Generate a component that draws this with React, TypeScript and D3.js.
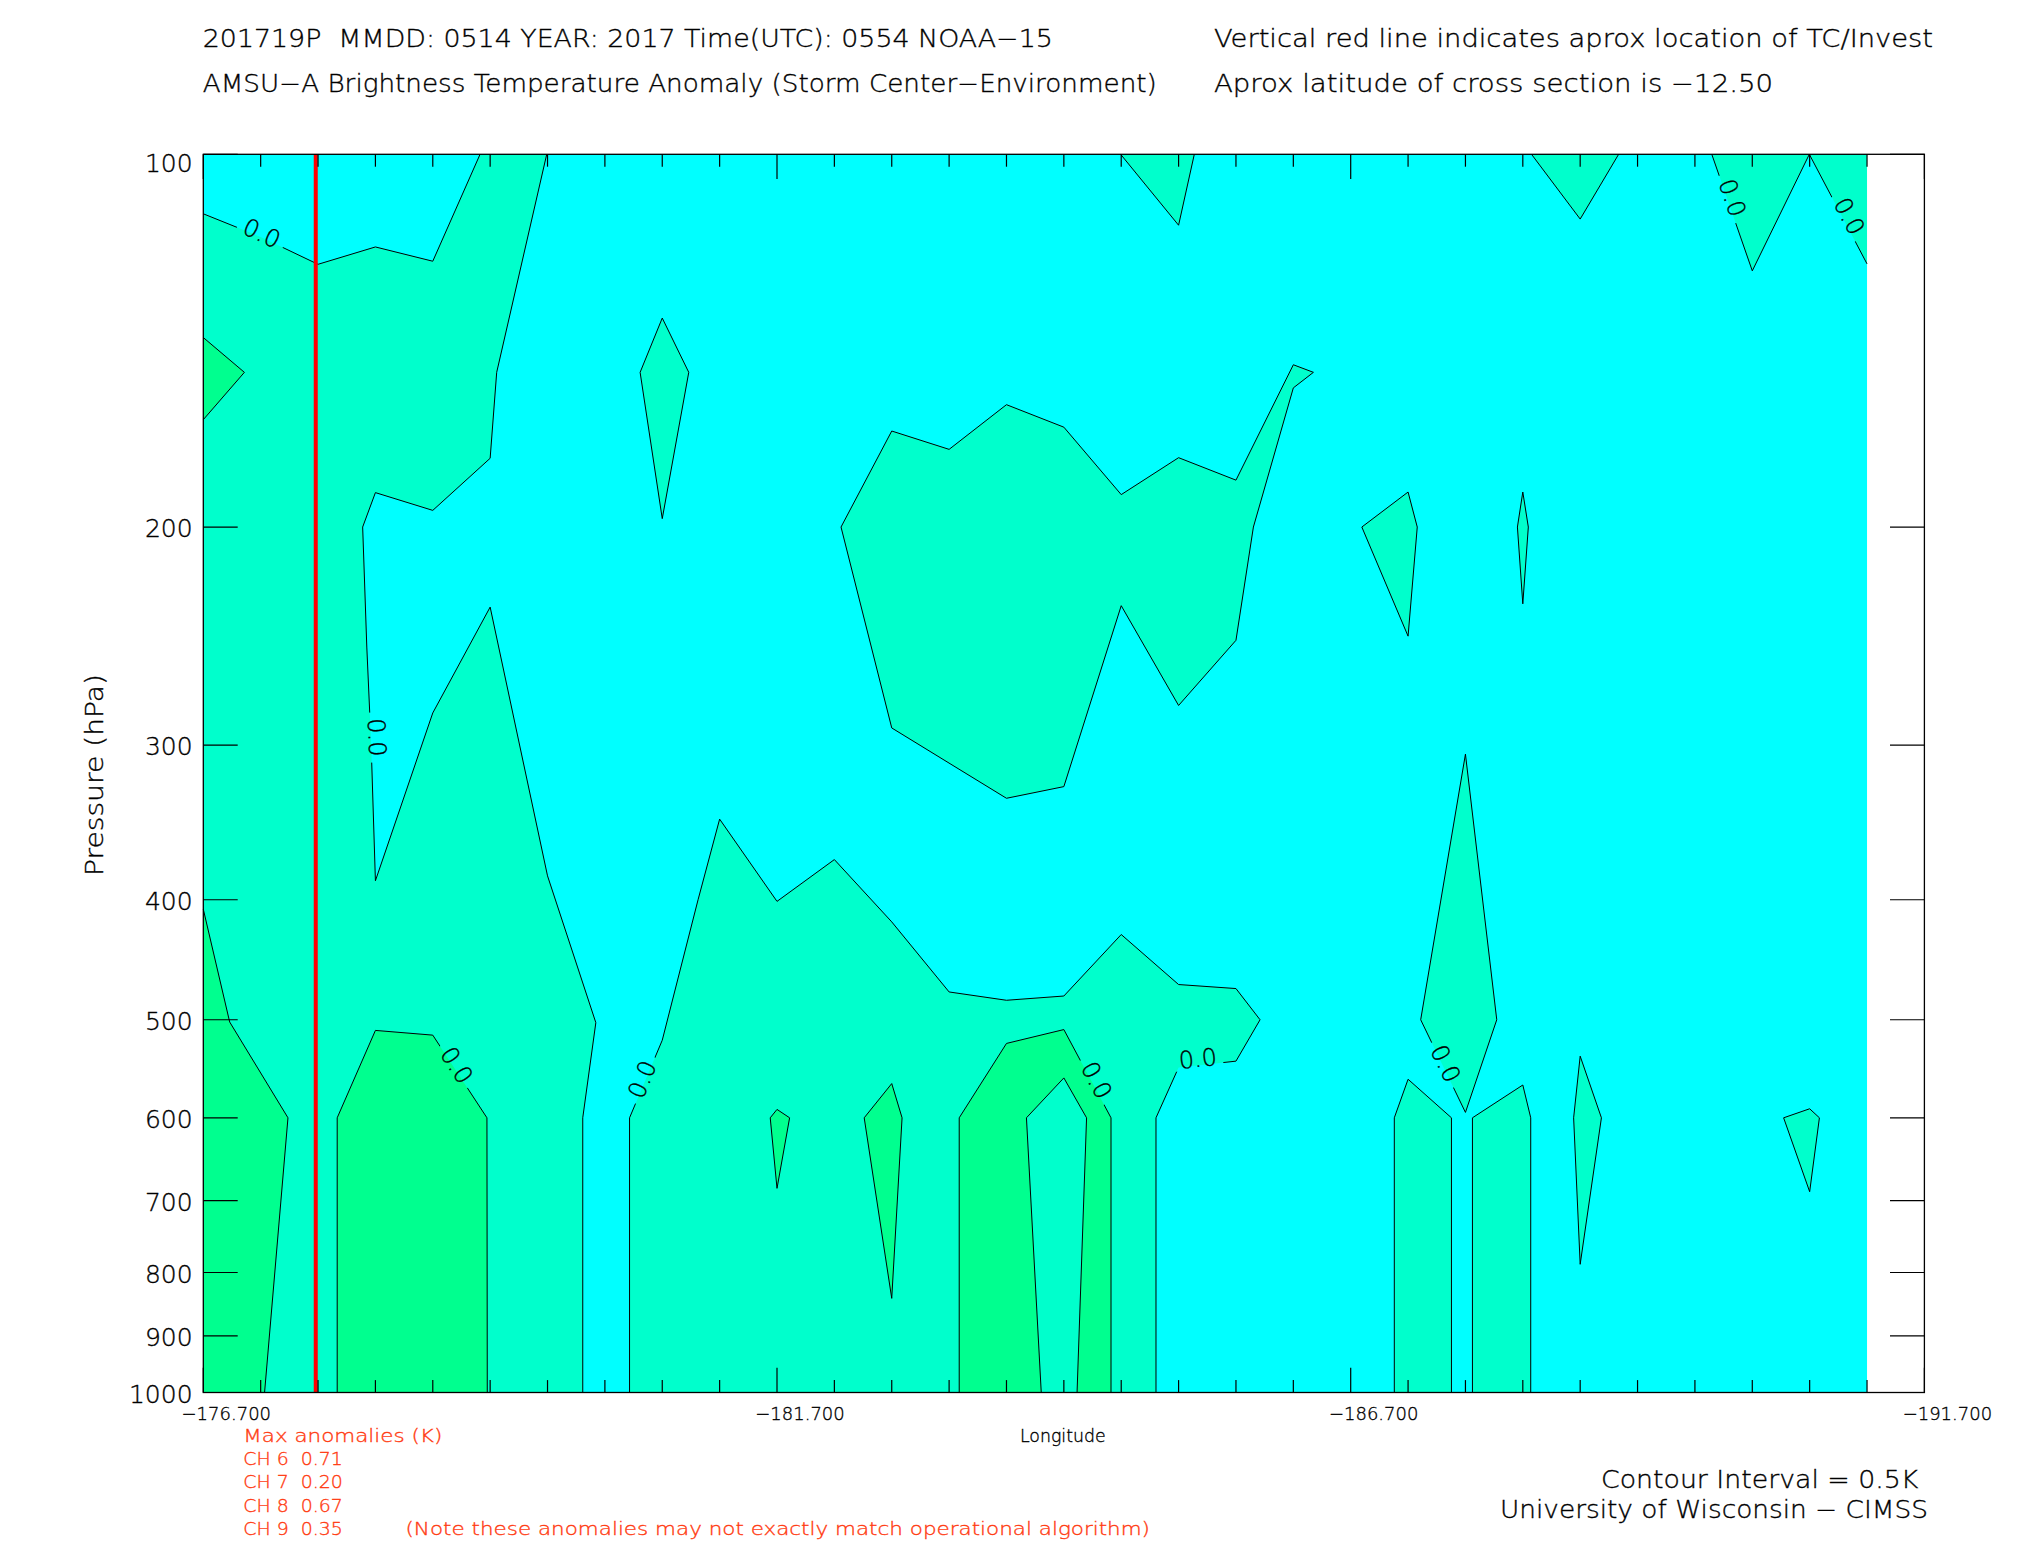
import React from "react";
import * as d3 from "d3";

type Pt = [number, number]; // [longitude, pressure hPa]

// ---------- axes / ticks ----------
const lonMajorTicks = [-176.7, -181.7, -186.7, -191.7];
const lonMinorStep = 0.5;
const pressureTicks = [100, 200, 300, 400, 500, 600, 700, 800, 900, 1000];
const dataLonStart = -176.7;
const dataLonEnd = -191.2;
const stormLon = -177.68;

// ---------- contour regions (lon, hPa) ----------
// anomaly >= 0.0 (turquoise)
const turqWest: Pt[] = [
  [-176.7, 111.7], [-177.2, 116.6], [-177.7, 122.7], [-178.2, 118.8], [-178.7, 122.0],
  [-179.112, 100], [-179.693, 100], [-179.257, 150], [-179.2, 176.0], [-178.7, 193.9],
  [-178.2, 187.6], [-178.089, 200], [-178.125, 250], [-178.163, 300], [-178.2, 386.1],
  [-178.7, 282.6], [-179.2, 232.1], [-179.7, 382.6], [-180.121, 502.7], [-180.007, 600],
  [-180.007, 1000], [-176.7, 1000],
];
const turqMid: Pt[] = [
  [-180.415, 1000], [-180.415, 600], [-180.7, 519.4], [-181.012, 400], [-181.2, 344.3],
  [-181.7, 401.2], [-182.2, 371.2], [-182.7, 416.8], [-183.2, 474.8], [-183.7, 482.2],
  [-184.2, 478.4], [-184.7, 426.7], [-185.2, 468.3], [-185.7, 471.8], [-185.91, 500],
  [-185.7, 540.0], [-185.2, 546.4], [-185.003, 600], [-185.003, 1000],
];
const turqUpper: Pt[] = [
  [-182.258, 200], [-182.7, 167.3], [-183.2, 173.1], [-183.7, 159.3], [-184.2, 166.1],
  [-184.7, 188.3], [-185.2, 175.8], [-185.7, 183.3], [-186.2, 147.9], [-186.375, 150],
  [-186.2, 154.4], [-185.852, 200], [-185.7, 246.9], [-185.2, 278.7], [-184.7, 231.5],
  [-184.2, 324.1], [-183.7, 331.2], [-182.7, 290.6],
];
const turqDiamond: Pt[] = [[-180.7, 135.6], [-180.931, 150], [-180.7, 196.9], [-180.507, 150]];
const turqTop1: Pt[] = [[-184.695, 100], [-185.2, 114.1], [-185.337, 100]];
const turqTop2: Pt[] = [[-188.276, 100], [-188.7, 112.8], [-189.035, 100]];
const turqTop3: Pt[] = [[-189.847, 100], [-190.2, 124.2], [-190.697, 100]];
const turqTop4: Pt[] = [[-190.697, 100], [-191.2, 122.6], [-191.2, 100]];
const turqQuad: Pt[] = [[-186.797, 200], [-187.2, 187.4], [-187.28, 200], [-187.2, 245.0]];
const turqSliver: Pt[] = [[-188.2, 187.4], [-188.153, 200], [-188.2, 230.7], [-188.248, 200]];
const turqSpike: Pt[] = [[-187.7, 305.1], [-187.31, 500], [-187.7, 594.0], [-187.973, 500]];
const turqColumnA: Pt[] = [[-187.08, 1000], [-187.08, 600], [-187.2, 558.5], [-187.578, 600], [-187.578, 1000]];
const turqColumnB: Pt[] = [[-187.761, 1000], [-187.761, 600], [-188.2, 564.5], [-188.269, 600], [-188.269, 1000]];
const turqNeedle: Pt[] = [[-188.7, 535.0], [-188.643, 600], [-188.7, 787.9], [-188.885, 600]];
const turqKite: Pt[] = [[-190.473, 600], [-190.7, 590.0], [-190.785, 600], [-190.7, 688.4]];

// higher anomaly (green)
const greenWestTip: Pt[] = [[-176.7, 140.6], [-177.058, 150], [-176.7, 163.8]];
const greenWestLow: Pt[] = [[-176.7, 407.1], [-176.93, 502.1], [-177.438, 600], [-177.234, 1000], [-176.7, 1000]];
const greenBlock: Pt[] = [[-177.867, 1000], [-177.867, 600], [-178.2, 510.0], [-178.7, 514.5], [-179.172, 600], [-179.175, 1000]];
const greenSpeck: Pt[] = [[-181.641, 600], [-181.7, 590.7], [-181.81, 600], [-181.7, 684.1]];
const greenDiamond: Pt[] = [[-182.46, 600], [-182.7, 563.0], [-182.79, 600], [-182.7, 839.4]];
const greenArch: Pt[] = [[-183.288, 1000], [-183.288, 600], [-183.7, 522.5], [-184.2, 509.2], [-184.611, 600], [-184.611, 1000]];
// lower pocket inside the arch
const turqArchHole: Pt[] = [[-184.003, 1000], [-183.874, 600], [-184.2, 557.1], [-184.398, 600], [-184.315, 1000]];

const turquoiseRegions = [turqWest, turqMid, turqUpper, turqDiamond, turqTop1, turqTop2, turqTop3, turqTop4,
  turqQuad, turqSliver, turqSpike, turqColumnA, turqColumnB, turqNeedle, turqKite];
const greenRegions = [greenWestTip, greenWestLow, greenBlock, greenSpeck, greenDiamond, greenArch];
const holeRegions = [turqArchHole];

// contour labels: [lon, hPa, angle]
const contourLabels: [number, number, number][] = [
  [-177.21, 115.8, 25], [-178.214, 295.7, 88], [-178.909, 544.0, 57], [-180.523, 558.5, -68],
  [-184.486, 559.5, 62], [-185.367, 537.3, -6], [-187.528, 542.4, 64], [-190.028, 108.4, 71],
  [-191.046, 112.2, 62],
];

// ---------- annotation text ----------
const channels = [6, 7, 8, 9];
const maxAnomalies = ["0.71", "0.20", "0.67", "0.35"];

const COLORS = { cyan: "#00FFFF", turq: "#00FFCC", green: "#00FF8F", red: "#FF3A10" };
const FONT = "'DejaVu Sans', sans-serif";

export default function App() {
  const left = 203.3, right = 1924.4, top = 154.3, bottom = 1392.5;
  const x = d3.scaleLinear().domain([lonMajorTicks[0], lonMajorTicks[3]]).range([left, right]);
  const y = d3.scaleLog().domain([100, 1000]).range([top, bottom]);
  const area = d3.line<Pt>().x(d => x(d[0])).y(d => y(d[1])).curve(d3.curveLinearClosed);

  const side = (p: Pt) => {
    const s: string[] = [];
    if (Math.abs(p[0] - dataLonStart) < 1e-6) s.push("L");
    if (Math.abs(p[0] - dataLonEnd) < 1e-6) s.push("R");
    if (Math.abs(p[1] - 100) < 1e-6) s.push("T");
    if (Math.abs(p[1] - 1000) < 1e-6) s.push("B");
    return s;
  };
  const allRegions = [...turquoiseRegions, ...greenRegions, ...holeRegions];
  let linePath = "";
  allRegions.forEach(poly => {
    poly.forEach((a, i) => {
      const b = poly[(i + 1) % poly.length];
      const sa = side(a), sb = side(b);
      if (sa.some(s => sb.includes(s))) return;
      linePath += `M${x(a[0]).toFixed(2)},${y(a[1]).toFixed(2)}L${x(b[0]).toFixed(2)},${y(b[1]).toFixed(2)}`;
    });
  });

  const minorTicks = d3.range(0, 31).map(i => lonMajorTicks[0] - lonMinorStep * i);
  const majorLen = 24.8, minorLen = 12.4, yTickLen = 34.4;
  const fmtLon = (v: number) => (v < 0 ? "\u2212" : "") + Math.abs(v).toFixed(3);

  // thin, dark "vector font" look
  const txt = { fontWeight: 200, stroke: "currentColor", strokeWidth: 0.35 } as const;

  return (
    <svg width={2025} height={1550} style={{ position: "absolute", left: 0, top: 0, background: "#fff" }}
      fontFamily={FONT}>
      <defs>
        <mask id="labelGaps" maskUnits="userSpaceOnUse" x={0} y={0} width={2025} height={1550}>
          <rect x={0} y={0} width={2025} height={1550} fill="#fff" />
          {contourLabels.map(([lo, p, a], i) => (
            <rect key={i} x={-25} y={-11} width={50} height={22} fill="#000"
              transform={`translate(${x(lo)},${y(p)}) rotate(${a})`} />
          ))}
        </mask>
      </defs>
      <rect x={0} y={0} width={2025} height={1550} fill="#fff" />
      {/* data domain */}
      <rect x={x(dataLonStart)} y={top} width={x(dataLonEnd) - x(dataLonStart)} height={bottom - top} fill={COLORS.cyan} />
      {turquoiseRegions.map((r, i) => <path key={"t" + i} d={area(r) || ""} fill={COLORS.turq} />)}
      {greenRegions.map((r, i) => <path key={"g" + i} d={area(r) || ""} fill={COLORS.green} />)}
      {holeRegions.map((r, i) => <path key={"h" + i} d={area(r) || ""} fill={COLORS.turq} />)}
      <path d={linePath} stroke="#000" strokeWidth={1} fill="none" mask="url(#labelGaps)" />
      <g color="#000" fill="#000">
        {contourLabels.map(([lo, p, a], i) => (
          <text key={i} transform={`translate(${x(lo)},${y(p)}) rotate(${a})`} textAnchor="middle" dy={8.5}
            fontSize={24} {...txt}>0.0</text>
        ))}
      </g>
      {/* storm location */}
      <line x1={x(stormLon)} x2={x(stormLon)} y1={top} y2={bottom} stroke="#FF0000" strokeWidth={4} />
      {/* frame */}
      <rect x={left} y={top} width={right - left} height={bottom - top} fill="none" stroke="#000" strokeWidth={1.3} />
      {pressureTicks.map(p => (
        <g key={p}>
          <line x1={left} x2={left + yTickLen} y1={y(p)} y2={y(p)} stroke="#000" strokeWidth={1.2} />
          <line x1={right - yTickLen} x2={right} y1={y(p)} y2={y(p)} stroke="#000" strokeWidth={1.2} />
        </g>
      ))}
      {minorTicks.map((v, i) => {
        const len = i % 10 === 0 ? majorLen : minorLen;
        return (
          <g key={i}>
            <line x1={x(v)} x2={x(v)} y1={bottom} y2={bottom - len} stroke="#000" strokeWidth={1.2} />
            <line x1={x(v)} x2={x(v)} y1={top} y2={top + len} stroke="#000" strokeWidth={1.2} />
          </g>
        );
      })}
      <g color="#000" fill="#000">
        {pressureTicks.map(p => (
          <text key={p} x={192.6} y={Math.max(y(p) + 10, top + 17.4)} textAnchor="end" fontSize={25} {...txt}>{p}</text>
        ))}
        {lonMajorTicks.map(v => (
          <text key={v} x={x(v) + 23} y={1420} textAnchor="middle" fontSize={18.5} {...txt}
            textLength={89.5} lengthAdjust="spacingAndGlyphs">{fmtLon(v)}</text>
        ))}
        <text x={1062.8} y={1441.7} textAnchor="middle" fontSize={17} {...txt} textLength={85.6}
          lengthAdjust="spacingAndGlyphs">Longitude</text>
        <text transform={`translate(102.5,775) rotate(-90)`} textAnchor="middle" fontSize={25} {...txt}
          textLength={202} lengthAdjust="spacingAndGlyphs">Pressure (hPa)</text>

        {/* titles */}
        <text x={202.8} y={46.5} fontSize={25} {...txt} xmlSpace="preserve" textLength={850} lengthAdjust="spacingAndGlyphs">{"201719P  MMDD: 0514 YEAR: 2017 Time(UTC): 0554 NOAA\u221215"}</text>
        <text x={1214} y={46.5} fontSize={25} {...txt} textLength={719} lengthAdjust="spacingAndGlyphs">Vertical red line indicates aprox location of TC/Invest</text>
        <text x={202.8} y={92} fontSize={25} {...txt} textLength={954} lengthAdjust="spacingAndGlyphs">{"AMSU\u2212A Brightness Temperature Anomaly (Storm Center\u2212Environment)"}</text>
        <text x={1214} y={92} fontSize={25} {...txt} textLength={559} lengthAdjust="spacingAndGlyphs">{"Aprox latitude of cross section is \u221212.50"}</text>

        <text x={1601} y={1488.3} fontSize={25} {...txt} textLength={317.4} lengthAdjust="spacingAndGlyphs">Contour Interval = 0.5K</text>
        <text x={1500} y={1518.3} fontSize={25} {...txt} textLength={428} lengthAdjust="spacingAndGlyphs">{"University of Wisconsin \u2212 CIMSS"}</text>
      </g>

      {/* max anomalies */}
      <g color={COLORS.red} fill={COLORS.red}>
        <text x={243.3} y={1441.7} fontSize={18.5} {...txt} textLength={199} lengthAdjust="spacingAndGlyphs">Max anomalies (K)</text>
        {channels.map((c, i) => (
          <text key={c} x={243.3} y={1465 + i * 23.33} fontSize={18.5} {...txt} xmlSpace="preserve"
            textLength={99.5} lengthAdjust="spacingAndGlyphs">{`CH ${c}  ${maxAnomalies[i]}`}</text>
        ))}
        <text x={405.5} y={1535} fontSize={18.5} {...txt} textLength={744.5} lengthAdjust="spacingAndGlyphs">(Note these anomalies may not exactly match operational algorithm)</text>
      </g>
    </svg>
  );
}
